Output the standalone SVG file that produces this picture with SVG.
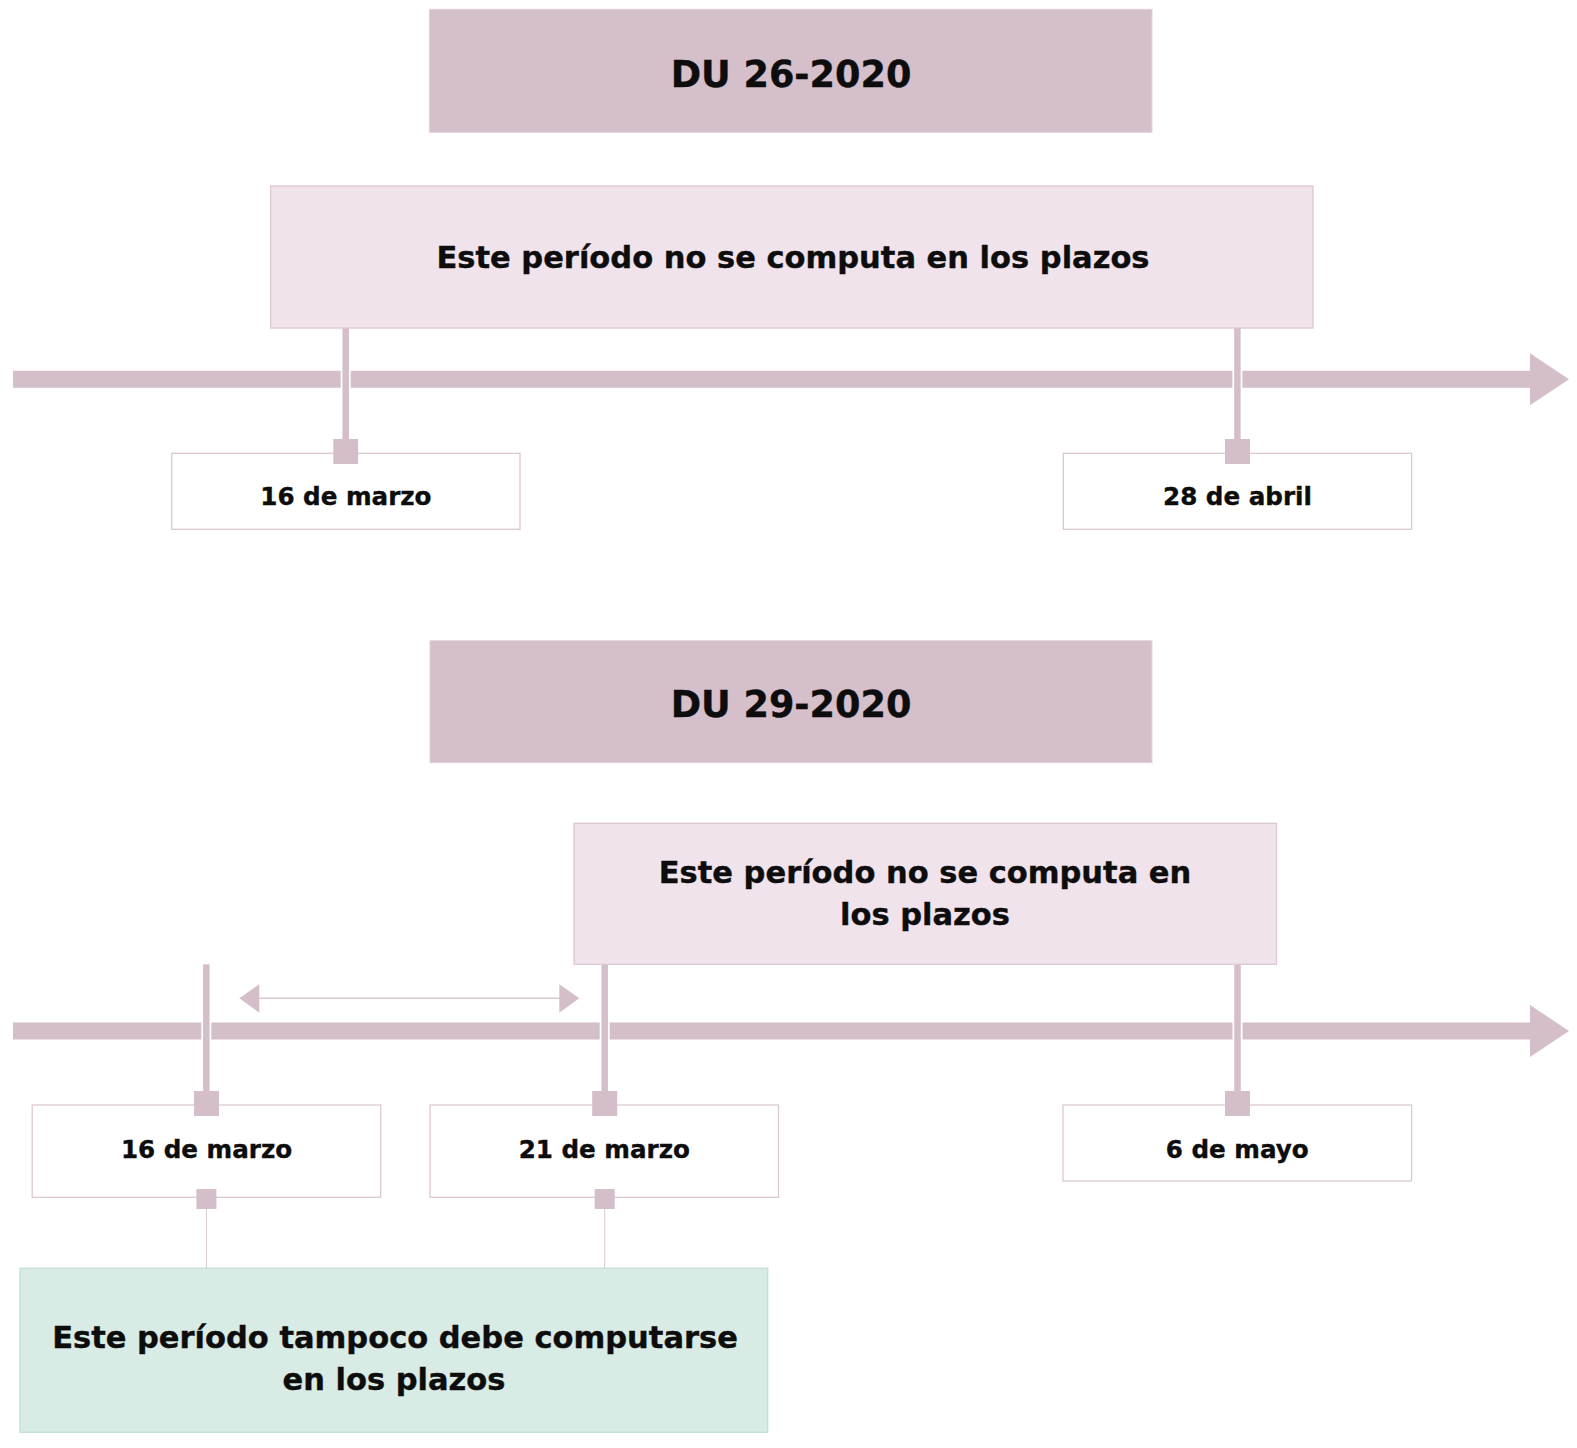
<svg xmlns="http://www.w3.org/2000/svg" width="1577" height="1448" viewBox="0 0 1577 1448">
<style>
text{font-family:"DejaVu Sans","Liberation Sans",sans-serif;font-weight:bold;fill:#0d0d0d;stroke:#0d0d0d;stroke-width:0.4;text-anchor:middle}
.title{font-size:36.6px}
.sub{font-size:30.5px}
.date{font-size:24.6px}
.tbox{fill:#D5BFCB;stroke:#E2D2DB;stroke-width:1}
.sbox{fill:#F0E3EC;stroke:#DDC7D3;stroke-width:1.3}
.dbox{fill:#fff;stroke:#DCC8D2;stroke-width:1.3}
.gbox{fill:#D8EBE4;stroke:#BEE0D2;stroke-width:1.3}
.axis{fill:#D4BECA}
.tick{stroke:#D4BECA;stroke-width:6.5;fill:none}
.tickbg{stroke:#fff;stroke-width:10;fill:none}
.sq{fill:#D4BECA}
.thin{stroke:#DCC8D2;stroke-width:1;fill:none}
.dbl{stroke:#DCC8D2;stroke-width:1.5;fill:none}
.head{fill:#D4BECA}
</style>
<rect width="1577" height="1448" fill="#fff"/>

<g id="connectors">
  <rect class="axis" x="13" y="370.8" width="1518" height="17"/>
  <polygon class="head" points="1530,353.3 1569,379.3 1530,405.3"/>
  <rect class="axis" x="13" y="1022.5" width="1518" height="17"/>
  <polygon class="head" points="1530,1005 1569,1031 1530,1057"/>
  <line class="tickbg" x1="345.7" y1="329" x2="345.7" y2="440"/>
  <line class="tick" x1="345.7" y1="328" x2="345.7" y2="440"/>
  <line class="tickbg" x1="1237.4" y1="329" x2="1237.4" y2="440"/>
  <line class="tick" x1="1237.4" y1="328" x2="1237.4" y2="440"/>
  <line class="tickbg" x1="206.3" y1="965" x2="206.3" y2="1092"/>
  <line class="tick" x1="206.3" y1="964.3" x2="206.3" y2="1092"/>
  <line class="tickbg" x1="604.7" y1="965" x2="604.7" y2="1092"/>
  <line class="tick" x1="604.7" y1="964.3" x2="604.7" y2="1092"/>
  <line class="tickbg" x1="1237.5" y1="965" x2="1237.5" y2="1092"/>
  <line class="tick" x1="1237.5" y1="964.3" x2="1237.5" y2="1092"/>
  <line class="thin" x1="206.4" y1="1209" x2="206.4" y2="1268.5"/>
  <line class="thin" x1="604.7" y1="1209" x2="604.7" y2="1268.5"/>
  <line class="dbl" x1="258" y1="998.3" x2="561" y2="998.3"/>
  <polygon class="head" points="239.3,998.3 259.3,984.3 259.3,1012.7"/>
  <polygon class="head" points="579.3,998.3 559.3,984.3 559.3,1012.7"/>
</g>

<g id="title-du26">
  <rect class="tbox" x="429.4" y="9.3" width="722.6" height="123"/>
  <text class="title" x="791" y="87.3">DU 26-2020</text>
</g>

<g id="period-1">
  <rect class="sbox" x="270.6" y="186" width="1042.4" height="142"/>
  <text class="sub" x="793" y="268.3">Este período no se computa en los plazos</text>
</g>

<g id="date-16-marzo-1">
  <rect class="dbox" x="171.7" y="453.3" width="348.3" height="76"/>
  <rect class="sq" x="333.3" y="439" width="24.8" height="25"/>
  <text class="date" x="345.9" y="505">16 de marzo</text>
</g>

<g id="date-28-abril">
  <rect class="dbox" x="1063.3" y="453.3" width="348.3" height="76"/>
  <rect class="sq" x="1225" y="439" width="25" height="25"/>
  <text class="date" x="1237.5" y="505">28 de abril</text>
</g>

<g id="title-du29">
  <rect class="tbox" x="430" y="640.7" width="722" height="122"/>
  <text class="title" x="791" y="717.3">DU 29-2020</text>
</g>

<g id="period-2">
  <rect class="sbox" x="574" y="823.3" width="702.5" height="141"/>
  <text class="sub" x="925" y="882.7">Este período no se computa en</text>
  <text class="sub" x="925" y="925">los plazos</text>
</g>

<g id="date-16-marzo-2">
  <rect class="dbox" x="32.2" y="1105" width="348.5" height="92.3"/>
  <rect class="sq" x="194" y="1091" width="25" height="25"/>
  <rect class="sq" x="196.4" y="1189" width="20" height="20"/>
  <text class="date" x="206.5" y="1157.8">16 de marzo</text>
</g>

<g id="date-21-marzo">
  <rect class="dbox" x="430" y="1105" width="348.5" height="92.3"/>
  <rect class="sq" x="592.2" y="1091" width="25" height="25"/>
  <rect class="sq" x="594.7" y="1189" width="20" height="20"/>
  <text class="date" x="604.3" y="1157.8">21 de marzo</text>
</g>

<g id="date-6-mayo">
  <rect class="dbox" x="1063" y="1105" width="348.6" height="76"/>
  <rect class="sq" x="1225" y="1091" width="25" height="25"/>
  <text class="date" x="1237.3" y="1157.8">6 de mayo</text>
</g>

<g id="period-extra">
  <rect class="gbox" x="20" y="1268.3" width="747.7" height="164"/>
  <text class="sub" x="395" y="1348.3">Este período tampoco debe computarse</text>
  <text class="sub" x="394" y="1390">en los plazos</text>
</g>
</svg>
